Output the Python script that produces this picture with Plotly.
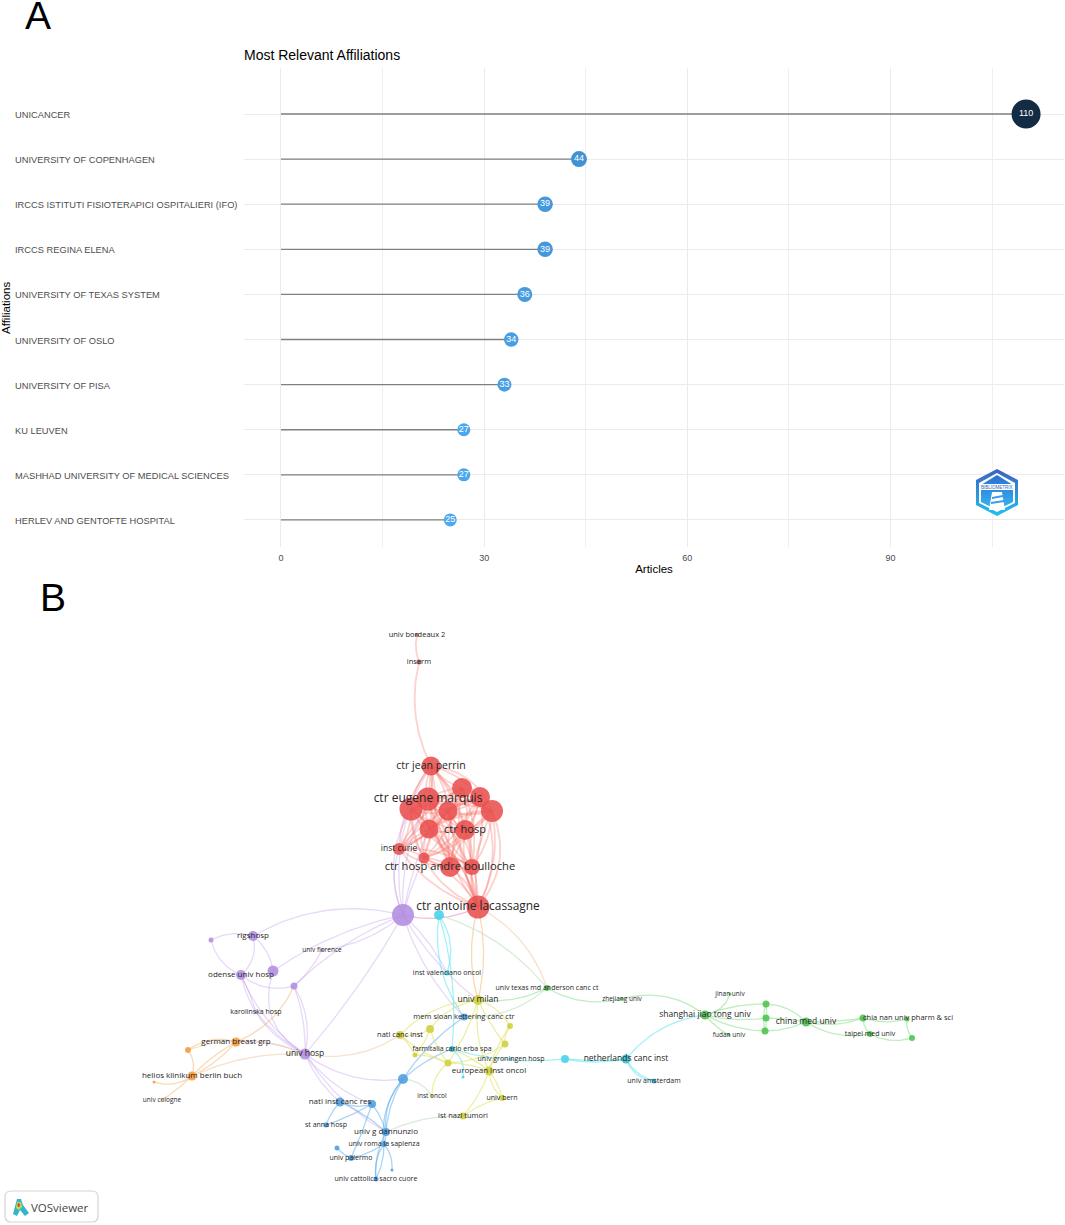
import itertools
import plotly.graph_objects as go

W = 1065
H = 1225

# panel A
affiliations = ["UNICANCER", "UNIVERSITY OF COPENHAGEN", "IRCCS ISTITUTI FISIOTERAPICI OSPITALIERI (IFO)",
                "IRCCS REGINA ELENA", "UNIVERSITY OF TEXAS SYSTEM", "UNIVERSITY OF OSLO", "UNIVERSITY OF PISA",
                "KU LEUVEN", "MASHHAD UNIVERSITY OF MEDICAL SCIENCES", "HERLEV AND GENTOFTE HOSPITAL"]
articles = [110, 44, 39, 39, 36, 34, 33, 27, 27, 25]
marker_sizes = [29, 16, 15.5, 15.5, 15, 14.5, 14, 13, 13, 13]

# panel B: id, x, y, radius, cluster, label, label size
nodes = [
    ("bordeaux", 417, 635, 2, "brown", "univ bordeaux 2", 7.5),
    ("inserm", 419, 662, 2.5, "brown", "inserm", 7.5),
    ("perrin", 431, 766, 9.5, "red", "ctr jean perrin", 10.5),
    ("r1", 462, 788, 10, "red", "", 0),
    ("marquis", 428, 799, 11.5, "red", "ctr eugene marquis", 12),
    ("r2", 411, 809, 11.5, "red", "", 0),
    ("r3", 480, 797, 10, "red", "", 0),
    ("r4", 492, 811, 11, "red", "", 0),
    ("r5", 448, 811, 9.5, "red", "", 0),
    ("r6", 429, 829, 9.5, "red", "", 0),
    ("hosp", 465, 830, 10, "red", "ctr hosp", 11),
    ("curie", 399, 849, 6, "red", "inst curie", 8.5),
    ("r7", 424, 858, 5.5, "red", "", 0),
    ("boulloche", 450, 867, 10, "red", "ctr hosp andre boulloche", 11.2),
    ("r8", 472, 867, 8, "red", "", 0),
    ("lacassagne", 478, 907, 11.5, "red", "ctr antoine lacassagne", 11.9),
    ("hub", 403, 915, 11, "purple", "", 0),
    ("c1", 439, 915, 5, "cyan", "", 0),
    ("p1", 211, 940, 2.5, "purple", "", 0),
    ("rigshosp", 253, 936, 5, "purple", "rigshosp", 8),
    ("p2", 273, 971, 5.5, "purple", "", 0),
    ("odense", 241, 975, 5, "purple", "odense univ hosp", 8),
    ("p3", 294, 986, 3.5, "purple", "", 0),
    ("florence", 322, 950, 1.5, "purple", "univ florence", 6.5),
    ("karolinska", 256, 1012, 1.5, "purple", "karolinska hosp", 7),
    ("univhosp", 305, 1054, 5.5, "purple", "univ hosp", 8.5),
    ("german", 236, 1042, 4.5, "orange", "german breast grp", 8),
    ("o1", 188, 1050, 3, "orange", "", 0),
    ("helios", 192, 1076, 4.5, "orange", "helios klinikum berlin buch", 8),
    ("o2", 154, 1082, 1.5, "orange", "", 0),
    ("cologne", 162, 1100, 1, "orange", "univ cologne", 6.5),
    ("natl_res", 340, 1102, 4.5, "blue", "natl inst canc res", 8),
    ("b1", 372, 1104, 4, "blue", "", 0),
    ("b2", 403, 1079, 5, "blue", "", 0),
    ("anna", 326, 1125, 2.5, "blue", "st anna hosp", 7),
    ("dannunzio", 386, 1132, 4, "blue", "univ g dannunzio", 8),
    ("sapienza", 384, 1144, 3, "blue", "univ roma la sapienza", 7),
    ("b3", 337, 1148, 2.5, "blue", "", 0),
    ("palermo", 351, 1158, 3, "blue", "univ palermo", 7),
    ("b4", 392, 1170, 1.5, "blue", "", 0),
    ("cattolica", 376, 1179, 2.5, "blue", "univ cattolica sacro cuore", 7),
    ("valenciano", 447, 973, 2.5, "cyan", "inst valenciano oncol", 7),
    ("anderson", 547, 988, 3, "green", "univ texas md anderson canc ct", 7),
    ("zhejiang", 622, 999, 1.5, "green", "zhejiang univ", 6.5),
    ("milan", 478, 1000, 5, "yellow", "univ milan", 8.5),
    ("kettering", 464, 1017, 3.5, "blue", "mem sloan kettering canc ctr", 7.5),
    ("y1", 510, 1026, 3, "yellow", "", 0),
    ("y2", 430, 1029, 4, "yellow", "", 0),
    ("natl_canc", 400, 1035, 4, "yellow", "natl canc inst", 7.5),
    ("farmitalia", 452, 1049, 3, "teal", "farmitalia carlo erba spa", 7),
    ("y3", 505, 1044, 3.5, "yellow", "", 0),
    ("y4", 415, 1055, 2.5, "yellow", "", 0),
    ("y5", 448, 1063, 3.5, "yellow", "", 0),
    ("european", 489, 1071, 4.5, "yellow", "european inst oncol", 8),
    ("groningen", 511, 1059, 1.5, "cyan", "univ groningen hosp", 7),
    ("c2", 463, 1077, 1.5, "cyan", "", 0),
    ("c3", 565, 1059, 4, "cyan", "", 0),
    ("netherlands", 626, 1059, 4.5, "teal", "netherlands canc inst", 8.5),
    ("amsterdam", 654, 1081, 2.5, "teal", "univ amsterdam", 7),
    ("inst_oncol", 432, 1096, 1.5, "yellow", "inst oncol", 6.5),
    ("bern", 502, 1098, 3, "yellow", "univ bern", 7),
    ("nazl", 463, 1116, 3.5, "yellow", "ist nazl tumori", 7.5),
    ("shanghai", 705, 1015, 4.5, "green", "shanghai jiao tong univ", 8.5),
    ("jinan", 730, 994, 1.5, "green", "jinan univ", 6.5),
    ("g1", 766, 1004, 3.5, "green", "", 0),
    ("g2", 766, 1018, 3.5, "green", "", 0),
    ("g3", 765, 1031, 3.5, "green", "", 0),
    ("fudan", 729, 1035, 1.5, "green", "fudan univ", 6.5),
    ("china_med", 806, 1022, 4.5, "green", "china med univ", 8.5),
    ("chia_nan", 863, 1018, 3.5, "green", "", 0),
    ("g4", 907, 1019, 2.5, "green", "", 0),
    ("taipei", 870, 1034, 3, "green", "taipei med univ", 7),
    ("g5", 912, 1038, 3, "green", "", 0),
]
extra_labels = [("chia nan univ pharm & sci", 908, 1018, 7.5)]

cluster_colors = {"red": "#e8504e", "purple": "#b18de0", "orange": "#f59b3c", "blue": "#4c9ee0",
                  "yellow": "#cfcf3e", "green": "#4fc24f", "cyan": "#45d3ea", "teal": "#35bccb", "brown": "#b5655a"}
edge_colors = {"red": "rgba(246,120,110,0.34)", "pink": "rgba(235,130,190,0.55)", "purple": "rgba(190,150,232,0.36)",
               "orange": "rgba(246,170,90,0.45)", "peach": "rgba(240,205,170,0.6)", "blue": "rgba(90,170,235,0.5)",
               "yellow": "rgba(226,226,110,0.6)", "green": "rgba(125,222,125,0.5)", "cyan": "rgba(95,228,240,0.55)",
               "pale": "rgba(190,225,190,0.6)"}

red_core = ["perrin", "r1", "marquis", "r2", "r3", "r4", "r5", "r6", "hosp", "curie", "r7", "boulloche", "r8", "lacassagne"]

# colour, from, to, bend
edges = [
    ("red", "bordeaux", "inserm", -0.15), ("red", "inserm", "perrin", -0.18),
    ("red", "r2", "lacassagne", -0.3), ("red", "r4", "lacassagne", 0.3), ("red", "r3", "lacassagne", 0.25),
    ("red", "r4", "lacassagne", 0.18), ("red", "perrin", "r4", 0.3),
    ("purple", "hub", "perrin", 0.2), ("purple", "hub", "r2", 0.25), ("purple", "hub", "r6", 0.06),
    ("purple", "hub", "curie", 0.2), ("purple", "hub", "r7", 0.05), ("purple", "hub", "marquis", 0.14),
    ("pink", "hub", "lacassagne", -0.18),
    ("purple", "hub", "rigshosp", -0.2), ("purple", "hub", "p2", -0.1), ("purple", "hub", "p3", -0.1),
    ("purple", "hub", "florence", 0.15), ("purple", "hub", "univhosp", 0.05), ("purple", "hub", "valenciano", 0.1),
    ("purple", "hub", "milan", -0.1), ("purple", "hub", "kettering", -0.12), ("purple", "florence", "p3", 0.1),
    ("purple", "rigshosp", "p1", -0.2), ("purple", "rigshosp", "p2", 0.2),
    ("purple", "rigshosp", "odense", 0.3), ("purple", "p1", "odense", -0.25), ("purple", "odense", "p3", -0.25),
    ("purple", "odense", "univhosp", -0.15), ("purple", "odense", "univhosp", -0.25), ("purple", "odense", "karolinska", 0.05),
    ("purple", "p2", "univhosp", -0.4), ("purple", "p3", "univhosp", 0.2),
    ("purple", "p3", "univhosp", 0.1),
    ("purple", "karolinska", "univhosp", -0.1), ("purple", "univhosp", "natl_res", -0.12), ("purple", "univhosp", "b1", -0.15),
    ("purple", "univhosp", "dannunzio", -0.12), ("purple", "univhosp", "b2", -0.2), ("purple", "univhosp", "german", -0.12),
    ("peach", "univhosp", "natl_canc", -0.2),
    ("orange", "p3", "german", 0.2), ("orange", "german", "o1", -0.25), ("orange", "o1", "helios", 0.25),
    ("orange", "german", "helios", 0.1), ("orange", "german", "helios", -0.08), ("orange", "helios", "o2", 0.25),
    ("orange", "helios", "cologne", 0.05), ("peach", "helios", "univhosp", 0.12), ("peach", "o1", "univhosp", 0.2),
    ("blue", "natl_res", "b1", -0.2), ("blue", "natl_res", "anna", -0.1), ("blue", "natl_res", "dannunzio", 0.08),
    ("blue", "b1", "palermo", 0.03), ("blue", "b1", "anna", 0.05), ("blue", "b1", "dannunzio", 0.1),
    ("blue", "b2", "dannunzio", -0.12), ("blue", "b2", "dannunzio", -0.22), ("blue", "b2", "sapienza", -0.22),
    ("blue", "b2", "kettering", 0.1), ("blue", "b2", "farmitalia", 0.1),
    ("blue", "dannunzio", "sapienza", 0.1), ("blue", "sapienza", "cattolica", 0.12), ("blue", "sapienza", "cattolica", -0.2),
    ("blue", "sapienza", "b4", 0.2), ("blue", "sapienza", "palermo", 0.1), ("blue", "palermo", "b3", 0.12),
    ("blue", "dannunzio", "cattolica", -0.15), ("pale", "dannunzio", "nazl", 0.12), ("pale", "b2", "inst_oncol", 0.25),
    ("cyan", "c1", "valenciano", 0.25), ("cyan", "c1", "kettering", -0.2), ("cyan", "c1", "farmitalia", 0.1),
    ("orange", "lacassagne", "milan", 0.12), ("orange", "lacassagne", "milan", -0.14), ("peach", "lacassagne", "anderson", 0.2),
    ("pale", "c1", "anderson", 0.15), ("pale", "kettering", "anderson", -0.2), ("green", "milan", "anderson", -0.15),
    ("yellow", "milan", "y2", -0.2), ("yellow", "milan", "y1", 0.2), ("yellow", "milan", "y3", -0.06),
    ("yellow", "milan", "european", -0.15), ("yellow", "milan", "y5", 0.08), ("yellow", "milan", "natl_canc", -0.2),
    ("yellow", "y2", "natl_canc", 0.2), ("yellow", "y2", "y5", -0.1), ("yellow", "y2", "y4", 0.1),
    ("yellow", "natl_canc", "y5", -0.1), ("yellow", "natl_canc", "y4", 0.1), ("yellow", "y4", "y5", 0.12),
    ("yellow", "y5", "european", 0.1), ("yellow", "y5", "y3", -0.15), ("yellow", "european", "y3", 0.12),
    ("yellow", "european", "y1", 0.1), ("yellow", "y1", "y3", -0.2), ("yellow", "european", "bern", 0.12),
    ("yellow", "european", "bern", -0.2), ("yellow", "european", "nazl", 0.1), ("yellow", "bern", "nazl", -0.1),
    ("yellow", "y5", "inst_oncol", -0.25), ("yellow", "farmitalia", "european", 0.08),
    ("cyan", "farmitalia", "c3", -0.1), ("cyan", "farmitalia", "c2", 0.3), ("cyan", "c3", "netherlands", -0.1),
    ("cyan", "c3", "netherlands", -0.05), ("cyan", "netherlands", "amsterdam", -0.2), ("cyan", "netherlands", "amsterdam", -0.3),
    ("cyan", "netherlands", "shanghai", 0.2),
    ("green", "anderson", "zhejiang", -0.2), ("green", "zhejiang", "shanghai", 0.25),
    ("green", "shanghai", "jinan", -0.3), ("green", "shanghai", "g1", 0.1), ("green", "shanghai", "g2", -0.1),
    ("green", "shanghai", "g3", -0.12), ("green", "shanghai", "fudan", -0.1), ("green", "g1", "g2", 0.1), ("green", "g2", "g3", 0.1),
    ("green", "g1", "g3", -0.15), ("green", "g1", "china_med", 0.2), ("green", "g2", "china_med", 0.05),
    ("green", "g3", "china_med", -0.1), ("green", "china_med", "chia_nan", -0.15), ("green", "china_med", "chia_nan", -0.05),
    ("green", "china_med", "taipei", -0.2), ("green", "chia_nan", "g4", -0.15), ("green", "chia_nan", "taipei", -0.2),
    ("green", "taipei", "g5", -0.2), ("green", "g4", "g5", -0.2),
]

node_at = {n[0]: n for n in nodes}


def curve(a, b, bend, steps=24):
    x0, y0 = node_at[a][1], node_at[a][2]
    x1, y1 = node_at[b][1], node_at[b][2]
    cx = (x0 + x1) / 2 + bend * (y1 - y0)
    cy = (y0 + y1) / 2 - bend * (x1 - x0)
    xs, ys = [], []
    for i in range(steps + 1):
        t = i / steps
        xs.append((1 - t) ** 2 * x0 + 2 * t * (1 - t) * cx + t ** 2 * x1)
        ys.append((1 - t) ** 2 * y0 + 2 * t * (1 - t) * cy + t ** 2 * y1)
    return xs + [None], ys + [None]


fig = go.Figure()

# lollipop sticks and heads
stick_x, stick_y = [], []
for name, val in zip(affiliations, articles):
    stick_x += [0, val, None]
    stick_y += [name, name, None]
fig.add_trace(go.Scatter(x=stick_x, y=stick_y, mode="lines", line=dict(color="#808080", width=1.3),
                         hoverinfo="skip", showlegend=False))
fig.add_trace(go.Scatter(x=articles, y=affiliations, mode="markers+text", text=articles,
                         textposition="middle center", textfont=dict(color="white", size=9, family="Liberation Sans"),
                         marker=dict(size=marker_sizes, color=articles, cmin=25, cmax=110, opacity=1, line=dict(width=0),
                                     colorscale=[[0, "#4fa9ef"], [0.25, "#3f8fd0"], [1, "#132B43"]]),
                         showlegend=False))

# network links, one trace per colour
red_pairs = list(itertools.combinations(red_core, 2))
for colour in edge_colors:
    xs, ys = [], []
    if colour == "red":
        for i, (a, b) in enumerate(red_pairs):
            px, py = curve(a, b, 0.16 if i % 2 else -0.16)
            xs += px
            ys += py
    for c, a, b, bend in edges:
        if c == colour:
            px, py = curve(a, b, bend)
            xs += px
            ys += py
    fig.add_trace(go.Scatter(x=xs, y=ys, xaxis="x2", yaxis="y2", mode="lines",
                             line=dict(color=edge_colors[colour], width=1.8 if colour == "red" else 1.3),
                             hoverinfo="skip", showlegend=False))

# network nodes and labels
fig.add_trace(go.Scatter(x=[n[1] for n in nodes], y=[n[2] for n in nodes], xaxis="x2", yaxis="y2", mode="markers",
                         marker=dict(size=[2 * n[3] for n in nodes], color=[cluster_colors[n[4]] for n in nodes],
                                     opacity=0.88, line=dict(width=0)),
                         hovertext=[n[0] for n in nodes], showlegend=False))
labelled = [n for n in nodes if n[5]]
fig.add_trace(go.Scatter(x=[n[1] for n in labelled] + [e[1] for e in extra_labels],
                         y=[n[2] for n in labelled] + [e[2] for e in extra_labels],
                         xaxis="x2", yaxis="y2", mode="text",
                         text=[n[5] for n in labelled] + [e[0] for e in extra_labels],
                         textposition="middle center",
                         textfont=dict(family="Open Sans", color="#262626",
                                       size=[n[6] for n in labelled] + [e[3] for e in extra_labels]),
                         hoverinfo="skip", showlegend=False))

# bibliometrix badge
hex_x = [997, 1018, 1018, 997, 976, 976, 997]
hex_y = [469, 480, 505, 516, 505, 480, 469]
inner_x = [997, 1015, 1015, 997, 979, 979, 997]
inner_y = [473, 483, 503, 512, 503, 483, 473]
fig.add_trace(go.Scatter(x=hex_x, y=hex_y, xaxis="x2", yaxis="y2", mode="lines", fill="toself",
                         line=dict(width=0, color="#3f6fc5"), hoverinfo="skip", showlegend=False,
                         fillgradient=dict(type="vertical", colorscale=[[0, "#1fc0f2"], [1, "#3d62bd"]])))
fig.add_trace(go.Scatter(x=inner_x, y=inner_y, xaxis="x2", yaxis="y2", mode="lines", fill="toself",
                         line=dict(width=0, color="white"), fillcolor="white", hoverinfo="skip", showlegend=False))
fig.add_trace(go.Scatter(x=[997, 1013, 1013, 997, 981, 981, 997], y=[475, 485, 502, 510, 502, 485, 475],
                         xaxis="x2", yaxis="y2", mode="lines", fill="toself",
                         line=dict(width=0, color="#2f80dc"), hoverinfo="skip", showlegend=False,
                         fillgradient=dict(type="vertical", colorscale=[[0, "#35b9f2"], [1, "#2b6fd2"]])))

ann = []
for name in affiliations:
    ann.append(dict(x=13, xref="x2", y=name, yref="y", text=name, showarrow=False, xanchor="left", yanchor="middle",
                    yshift=-1, font=dict(family="Liberation Sans", size=9.3, color="#4d4d4d")))
ann += [
    dict(x=6, xref="x2", y=308, yref="y2", text="Affiliations", textangle=-90, showarrow=False,
         font=dict(family="Liberation Sans", size=11.5, color="black")),
    dict(x=38, xref="x2", y=15, yref="y2", text="A", showarrow=False, font=dict(family="Liberation Sans", size=39, color="black")),
    dict(x=53, xref="x2", y=597, yref="y2", text="B", showarrow=False, font=dict(family="Liberation Sans", size=39, color="black")),
    dict(x=60, xref="x2", y=1207, yref="y2", text="VOSviewer", showarrow=False, font=dict(family="Open Sans", size=11.5, color="#444444")),
    dict(x=997, xref="x2", y=487, yref="y2", text="BIBLIOMETRIX", showarrow=False, font=dict(family="Liberation Sans", size=4.5, color="#2a5fb8")),
]

shapes = [
    # VOSviewer box
    dict(type="path", xref="x2", yref="y2", line=dict(color="#d4d4d4", width=1.2), fillcolor="white",
         path="M 11 1191 L 92 1191 Q 98 1191 98 1197 L 98 1216 Q 98 1222 92 1222 L 11 1222 Q 5 1222 5 1216 L 5 1197 Q 5 1191 11 1191 Z"),
    dict(type="path", xref="x2", yref="y2", line=dict(width=0), fillcolor="#35b6c8",
         path="M 17 1199 L 21 1199 L 23 1205 L 29 1213 L 25 1216 L 20 1210 L 17 1216 L 13 1214 Z"),
    dict(type="path", xref="x2", yref="y2", line=dict(width=0), fillcolor="#b9dd55",
         path="M 17 1202 L 21 1202 L 22 1207 L 19 1210 L 16 1208 Z"),
    dict(type="circle", xref="x2", yref="y2", line=dict(width=0), fillcolor="#e8402e", x0=17.5, x1=20, y0=1203, y1=1207),
    # lighthouse inside the badge
    dict(type="rect", xref="x2", yref="y2", line=dict(width=0), fillcolor="white", x0=979, x1=1015, y0=484, y1=490, layer="above"),
    dict(type="path", xref="x2", yref="y2", line=dict(width=0), fillcolor="white", layer="above",
         path="M 992 492 L 1002 492 L 1005 510 L 989 510 Z"),
    dict(type="path", xref="x2", yref="y2", line=dict(width=0), fillcolor="#3a9be6", layer="above",
         path="M 992 497 L 1003 495 L 1003 497 L 992 499 Z M 991 502 L 1004 500 L 1004 502 L 991 504 Z"),
]

fig.update_layout(
    width=W, height=H, margin=dict(l=0, r=0, t=0, b=0), paper_bgcolor="white", plot_bgcolor="rgba(0,0,0,0)",
    showlegend=False,
    title=dict(text="Most Relevant Affiliations", x=244 / W, xanchor="left", y=1 - 55 / H, yanchor="middle",
               font=dict(family="Liberation Sans", size=14, color="black")),
    xaxis=dict(domain=[244 / W, 1064 / W], range=[-5.45, 115.6], tick0=0, dtick=30, showgrid=True, gridcolor="#ebebeb",
               gridwidth=1, minor=dict(dtick=15, showgrid=True, gridcolor="#efefef", gridwidth=0.8), zeroline=False, showline=False,
               ticks="", ticklabelstandoff=4, tickfont=dict(family="Liberation Sans", size=9, color="#4d4d4d"),
               title=dict(text="Articles", standoff=2, font=dict(family="Liberation Sans", size=11.5, color="black"))),
    yaxis=dict(domain=[1 - 547 / H, 1 - 68 / H], type="category", categoryorder="array", categoryarray=affiliations,
               range=[9.6, -1.02], showgrid=True, gridcolor="#ebebeb", gridwidth=1, zeroline=False, showline=False,
               showticklabels=False, ticks=""),
    xaxis2=dict(domain=[0, 1], range=[0, W], visible=False, fixedrange=True, anchor="y2"),
    yaxis2=dict(domain=[0, 1], range=[H, 0], visible=False, fixedrange=True, anchor="x2"),
    annotations=ann, shapes=shapes,
)

fig.write_html("out.html", config={"displayModeBar": False}, post_script="document.body.style.margin='0'")
